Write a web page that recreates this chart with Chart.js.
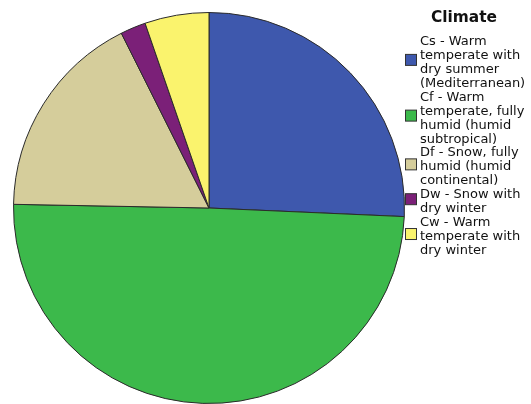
<!DOCTYPE html>
<html><head><meta charset="utf-8">
<script src="https://cdn.jsdelivr.net/npm/chart.js@4/dist/chart.umd.min.js"></script>
<style>html,body{margin:0;padding:0;background:#fff;}#wrap{position:relative;width:531px;height:404px;}</style>
</head><body><div id="wrap"><canvas id="c" width="531" height="404"></canvas></div>
<script>
const legendTitle = "Climate";
const categories = [
  "Cs - Warm temperate with dry summer (Mediterranean)",
  "Cf - Warm temperate, fully humid (humid subtropical)",
  "Df - Snow, fully humid (humid continental)",
  "Dw - Snow with dry winter",
  "Cw - Warm temperate with dry winter"
];
const legendLines = [
  ["Cs - Warm", "temperate with", "dry summer", "(Mediterranean)"],
  ["Cf - Warm", "temperate, fully", "humid (humid", "subtropical)"],
  ["Df - Snow, fully", "humid (humid", "continental)"],
  ["Dw - Snow with", "dry winter"],
  ["Cw - Warm", "temperate with", "dry winter"]
];
const values = [25.7, 49.6, 17.3, 2.1, 5.3];
const colors = ["#3e58ad", "#3cb94b", "#d5cd9b", "#7b2078", "#faf36d"];

const legendPlugin = {
  id: 'customLegend',
  afterDraw(chart) {
    const ctx = chart.ctx;
    ctx.save();
    ctx.fillStyle = '#111';
    ctx.textAlign = 'center';
    ctx.textBaseline = 'alphabetic';
    ctx.font = 'bold 15.4px "DejaVu Sans"';
    ctx.fillText(legendTitle, 464, 22);
    ctx.textAlign = 'left';
    ctx.font = '13px "DejaVu Sans"';
    const base0 = 45, step = 13.93;
    let li = 0;
    legendLines.forEach((lines, k) => {
      const first = base0 + li * step;
      lines.forEach((t, j) => {
        ctx.fillStyle = '#111';
        ctx.fillText(t, 420, base0 + (li + j) * step);
      });
      const last = base0 + (li + lines.length - 1) * step;
      const cy = (first + last) / 2 - 5.5;
      ctx.fillStyle = colors[k];
      ctx.fillRect(405.5, cy - 6, 11, 11);
      ctx.strokeStyle = '#333';
      ctx.lineWidth = 1;
      ctx.strokeRect(405.5, cy - 6, 11, 11);
      li += lines.length;
    });
    ctx.restore();
  }
};

new Chart(document.getElementById('c'), {
  type: 'pie',
  data: {
    labels: categories,
    datasets: [{
      data: values,
      backgroundColor: colors,
      borderColor: '#2a2a2a',
      borderWidth: 1
    }]
  },
  options: {
    responsive: false,
    devicePixelRatio: 1,
    animation: false,
    layout: { padding: { left: 13, top: 12, right: 126, bottom: 0 } },
    plugins: { legend: { display: false }, tooltip: { enabled: false } }
  },
  plugins: [legendPlugin]
});
</script></body></html>
